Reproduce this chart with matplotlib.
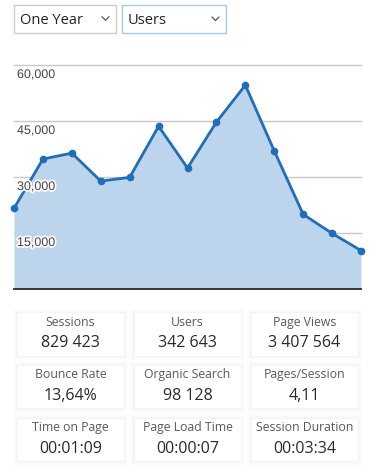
import matplotlib
matplotlib.use("Agg")
import matplotlib.pyplot as plt
import matplotlib.patheffects as pe
from matplotlib.patches import Rectangle

# ---------------- data ----------------
period_option = "One Year"
metric_option = "Users"
users = [21600, 34800, 36400, 28900, 29900, 43600, 32400, 44700, 54600, 37000, 20000, 14900, 10300]
y_ticks = [15000, 30000, 45000, 60000]
card_titles = ["Sessions", "Users", "Page Views",
               "Bounce Rate", "Organic Search", "Pages/Session",
               "Time on Page", "Page Load Time", "Session Duration"]
card_values = ["829 423", "342 643", "3 407 564",
               "13,64%", "98 128", "4,11",
               "00:01:09", "00:00:07", "00:03:34"]

W, H = 378, 477
fig = plt.figure(figsize=(W / 100, H / 100), dpi=100)
fig.patch.set_facecolor("white")

# overlay in pixel coordinates
ov = fig.add_axes([0, 0, 1, 1], zorder=0)
ov.set_xlim(0, W)
ov.set_ylim(H, 0)
ov.axis("off")

ui_font = ["Open Sans", "DejaVu Sans"]

# ---------------- dropdowns ----------------
def dropdown(x0, x1, y0, y1, label, edge):
    ov.add_patch(Rectangle((x0, y0), x1 - x0, y1 - y0, facecolor="white",
                           edgecolor=edge, lw=1.0))
    ov.text(x0 + 6, (y0 + y1) / 2 + 0.5, label, fontsize=10.5, family=ui_font,
            color="#222222", va="center", ha="left")
    cx, cy = x1 - 10, (y0 + y1) / 2
    ov.plot([cx - 3.5, cx, cx + 3.5], [cy - 1.8, cy + 1.8, cy - 1.8],
            color="#555555", lw=0.9, solid_capstyle="round")

dropdown(13.5, 115.5, 5.5, 33.5, period_option, "#cccccc")
dropdown(121.5, 225.5, 5.5, 34.0, metric_option, "#a9c9e6")

# ---------------- chart ----------------
left, right, top, bottom = 14, 361, 62, 290
ax = fig.add_axes([left / W, 1 - bottom / H, (right - left) / W, (bottom - top) / H], zorder=2)
ax.set_facecolor("none")
xs = list(range(len(users)))
ymax = 60000 * (bottom - top) / (bottom - 66)
ax.set_xlim(0, len(users) - 1)
ax.set_ylim(0, ymax)
for t in y_ticks:
    ax.axhline(t, color="#c8c8c8", lw=1.0, zorder=0, clip_on=False)
ax.fill_between(xs, users, 0, color="#bdd5ec", lw=0, zorder=1)
ax.plot(xs, users, color="#1f6eb8", lw=2.0, marker="o", ms=4.5, zorder=3, clip_on=False)
ax.axhline(0, color="#2b2b2b", lw=1.3, zorder=4, clip_on=False)
for t in y_ticks:
    ax.annotate(f"{t:,}", xy=(0, t), xytext=(3, -13), textcoords="offset pixels",
                fontsize=9, family=["Liberation Sans", "DejaVu Sans"], color="#444444",
                ha="left", va="baseline", zorder=5,
                path_effects=[pe.withStroke(linewidth=2.5, foreground="white")])
for s in ax.spines.values():
    s.set_visible(False)
ax.set_xticks([])
ax.set_yticks([])

# ---------------- cards ----------------
col_x = [17, 134, 251]
row_y = [313, 365.5, 418.5]
cw, ch = 107, 43.5
for i, (title, val) in enumerate(zip(card_titles, card_values)):
    r, c = divmod(i, 3)
    x0, y0 = col_x[c], row_y[r]
    for k in [4.0, 3.0, 2.0, 1.2, 0.6]:
        ov.add_patch(Rectangle((x0 - k, y0 - k + 0.6), cw + 2 * k, ch + 2 * k,
                               facecolor="black", alpha=0.009, lw=0))
    ov.add_patch(Rectangle((x0, y0), cw, ch, facecolor="white", edgecolor="#f2f2f2", lw=0.5))
    ov.text(x0 + cw / 2, y0 + 9.5, title, fontsize=8.8, family=ui_font, color="#5a5a5a",
            ha="center", va="center")
    ov.text(x0 + cw / 2, y0 + 30.5, val, fontsize=11.5, family=ui_font, color="#2a2a2a",
            ha="center", va="center")

fig.savefig("out.png", dpi=100, facecolor="white")
